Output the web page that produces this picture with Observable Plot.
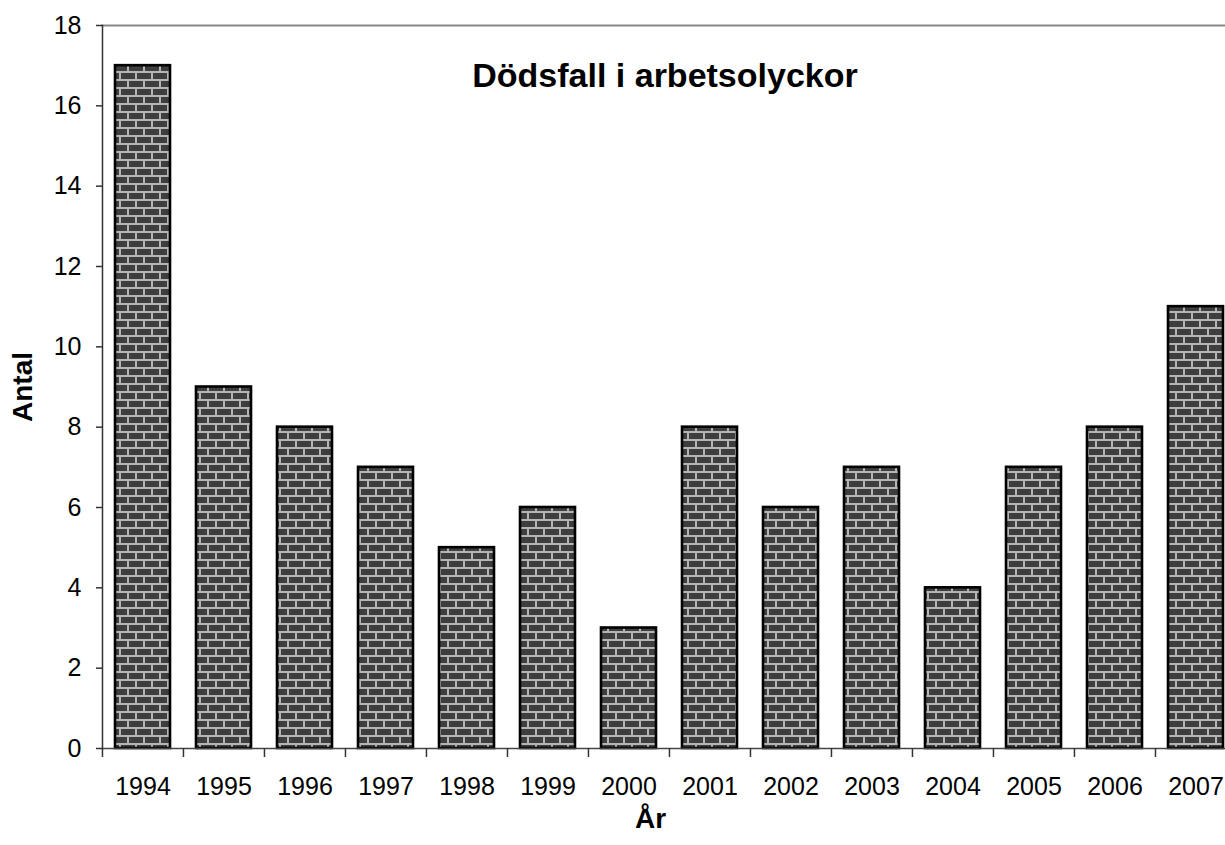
<!DOCTYPE html>
<html>
<head>
<meta charset="utf-8">
<script src="https://cdn.jsdelivr.net/npm/d3@7"></script>
<script src="https://cdn.jsdelivr.net/npm/@observablehq/plot@0.6"></script>
<style>
  html, body { margin: 0; padding: 0; background: white; }
</style>
</head>
<body>
<div id="chart"></div>
<script>
const years = ["1994","1995","1996","1997","1998","1999","2000","2001","2002","2003","2004","2005","2006","2007"];
const counts = [17, 9, 8, 7, 5, 6, 3, 8, 6, 7, 4, 7, 8, 11];
const yTicks = [0, 2, 4, 6, 8, 10, 12, 14, 16, 18];
const titleText = "Dödsfall i arbetsolyckor";
const yLabel = "Antal";
const xLabel = "År";

const data = years.map((y, i) => ({year: y, count: counts[i]}));

const W = 1225, H = 845, mL = 102, mR = -12, mT = 25, mB = 97;
const step = (W - mL - mR) / years.length;
const font = "'Liberation Sans', Arial, sans-serif";

const plot = Plot.plot({
  width: W, height: H,
  marginLeft: mL, marginRight: mR, marginTop: mT, marginBottom: mB,
  style: {fontFamily: font, background: "white", overflow: "hidden", color: "black"},
  x: {domain: years, range: [mL, W - mR], paddingInner: 0.32, paddingOuter: 0.16, label: null, axis: null},
  y: {domain: [0, 18], label: null, axis: null},
  marks: [
    Plot.frame({anchor: "top", stroke: "#888", strokeWidth: 2}),
    Plot.barY(data, {x: "year", y: "count", fill: "url(#bricks)", stroke: "black", strokeWidth: 2.6}),
    Plot.frame({anchor: "left", stroke: "#333", strokeWidth: 1.5}),
    Plot.frame({anchor: "bottom", stroke: "#444", strokeWidth: 1.5}),
    Plot.axisY({ticks: yTicks, tickSize: 6, tickPadding: 15, fontSize: 25, label: null, stroke: "#333", strokeWidth: 1.5}),
    Plot.axisX({tickSize: 9, tickFormat: () => "", dx: -step / 2, label: null, stroke: "#333", strokeWidth: 1.5}),
    Plot.axisX({tickSize: 0, tickPadding: 29, fontSize: 25, label: null}),
    Plot.text([titleText], {frameAnchor: "top", lineAnchor: "middle", dy: 51, dx: -5, fontSize: 34, fontWeight: "bold", fill: "black"}),
    Plot.text([yLabel], {frameAnchor: "left", textAnchor: "middle", lineAnchor: "middle", rotate: -90, dx: -79, dy: 0, fontSize: 28, fontWeight: "bold", fill: "black"}),
    Plot.text([xLabel], {frameAnchor: "bottom", lineAnchor: "middle", dy: 71, dx: -19.5, fontSize: 28, fontWeight: "bold", fill: "black"})
  ]
});

// brick pattern
const defs = d3.select(plot).insert("defs", ":first-child");
const pat = defs.append("pattern")
  .attr("id", "bricks")
  .attr("patternUnits", "userSpaceOnUse")
  .attr("width", 16).attr("height", 16);
pat.append("rect").attr("width", 16).attr("height", 16).attr("fill", "#b4b4b4");
pat.append("rect").attr("x", 1).attr("y", 1).attr("width", 14).attr("height", 6).attr("fill", "#3e3e3e");
pat.append("rect").attr("x", -7).attr("y", 9).attr("width", 14).attr("height", 6).attr("fill", "#3e3e3e");
pat.append("rect").attr("x", 9).attr("y", 9).attr("width", 14).attr("height", 6).attr("fill", "#3e3e3e");

document.getElementById("chart").appendChild(plot);
</script>
</body>
</html>
